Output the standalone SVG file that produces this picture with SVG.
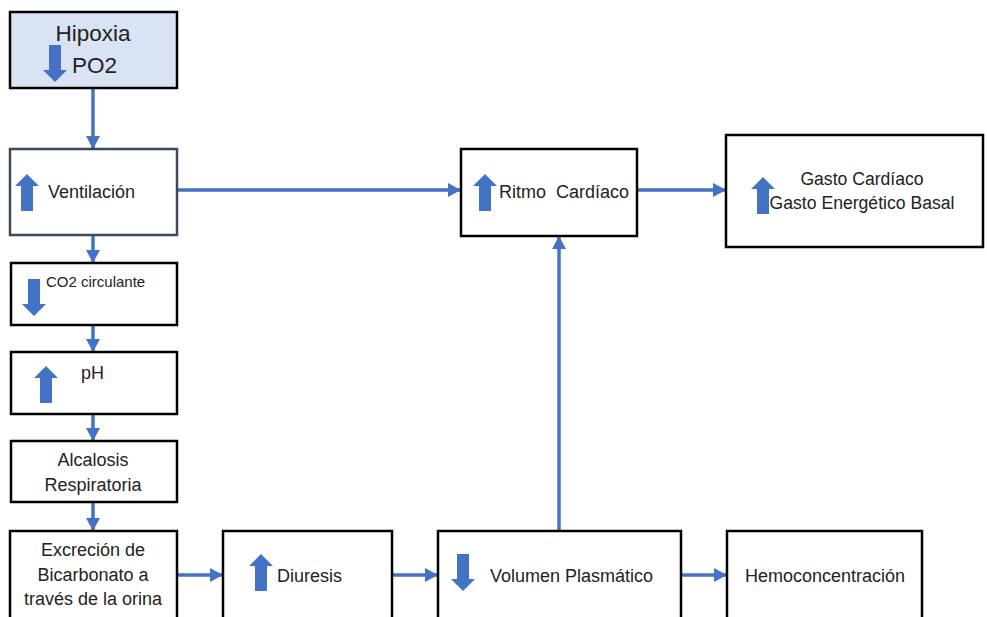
<svg xmlns="http://www.w3.org/2000/svg" width="987" height="617" viewBox="0 0 987 617">
<style>
.box{fill:#fff;stroke:#000;stroke-width:2.5}
.t{font-family:"Liberation Sans",Arial,sans-serif;font-size:18px;fill:#222;white-space:pre}
.s175{font-size:17.6px}
.s23{font-size:22.5px}
.s15{font-size:15px}
.c{text-anchor:middle}
.con{stroke:#4472c4;stroke-width:3.5;fill:none;marker-end:url(#ah)}
.blk{fill:#4472c4}
</style>
<defs>
<marker id="ah" markerUnits="userSpaceOnUse" markerWidth="14" markerHeight="14" viewBox="0 0 14 14" refX="13" refY="7" orient="auto">
<path d="M0,0 L13,7 L0,14 Z" fill="#4472c4"/>
</marker>
<polygon id="up" points="12,0 24,12 18,12 18,37 6,37 6,12 0,12"/>
<polygon id="down" points="12,37 24,25 18,25 18,0 6,0 6,25 0,25"/>
</defs>
<rect width="987" height="617" fill="#fff"/>
<g id="connectors">
<line class="con" x1="93" y1="88" x2="93" y2="149"/>
<line class="con" x1="93" y1="235" x2="93" y2="263"/>
<line class="con" x1="93" y1="325" x2="93" y2="352"/>
<line class="con" x1="93" y1="414" x2="93" y2="441"/>
<line class="con" x1="93" y1="502" x2="93" y2="531"/>
<line class="con" x1="177" y1="575" x2="223" y2="575"/>
<line class="con" x1="392" y1="575" x2="438" y2="575"/>
<line class="con" x1="681" y1="575" x2="727" y2="575"/>
<line class="con" x1="559" y1="531" x2="559" y2="236"/>
<line class="con" x1="177" y1="190" x2="461" y2="190"/>
<line class="con" x1="637" y1="190" x2="726" y2="190"/>
</g>
<g id="hipoxia">
<rect x="10" y="12" width="167" height="76" fill="#dae3f3" stroke="#000" stroke-width="2.5"/>
<text class="t s23 c" x="93" y="41">Hipoxia</text>
<text class="t s23" x="72" y="73">PO2</text>
<use href="#down" class="blk" x="43" y="45"/>
</g>
<g id="ventilacion">
<rect x="10" y="149" width="167" height="86" fill="#fff" stroke="#3b4a5e" stroke-width="2.5"/>
<use href="#up" class="blk" x="15" y="174"/>
<text class="t" x="48" y="198">Ventilación</text>
</g>
<g id="co2">
<rect class="box" x="11" y="263" width="166" height="62"/>
<use href="#down" class="blk" x="22" y="279"/>
<text class="t s15" x="46" y="287">CO2 circulante</text>
</g>
<g id="ph">
<rect class="box" x="11" y="352" width="166" height="62"/>
<use href="#up" class="blk" x="34" y="366"/>
<text class="t" x="81" y="379">pH</text>
</g>
<g id="alcalosis">
<rect class="box" x="11" y="441" width="166" height="61"/>
<text class="t c" x="93" y="466">Alcalosis</text>
<text class="t c" x="93" y="491">Respiratoria</text>
</g>
<g id="excrecion">
<rect class="box" x="10" y="531" width="167" height="92"/>
<text class="t c" x="93" y="556">Excreción de</text>
<text class="t c" x="93" y="581">Bicarbonato a</text>
<text class="t c" x="93" y="605">través de la orina</text>
</g>
<g id="diuresis">
<rect class="box" x="223" y="531" width="169" height="92"/>
<use href="#up" class="blk" x="249" y="554"/>
<text class="t" x="277" y="582">Diuresis</text>
</g>
<g id="volumen">
<rect class="box" x="438" y="531" width="243" height="92"/>
<use href="#down" class="blk" x="451" y="554"/>
<text class="t" x="490" y="582">Volumen Plasmático</text>
</g>
<g id="hemo">
<rect class="box" x="727" y="531" width="195" height="92"/>
<text class="t c" x="825" y="582">Hemoconcentración</text>
</g>
<g id="ritmo">
<rect class="box" x="461" y="149" width="176" height="87"/>
<use href="#up" class="blk" x="473" y="174"/>
<text class="t" x="499" y="198">Ritmo  Cardíaco</text>
</g>
<g id="gasto">
<rect class="box" x="726" y="135" width="257" height="112"/>
<use href="#up" class="blk" x="751" y="177"/>
<text class="t s175 c" x="862" y="185">Gasto Cardíaco</text>
<text class="t s175 c" x="862" y="209">Gasto Energético Basal</text>
</g>
</svg>
